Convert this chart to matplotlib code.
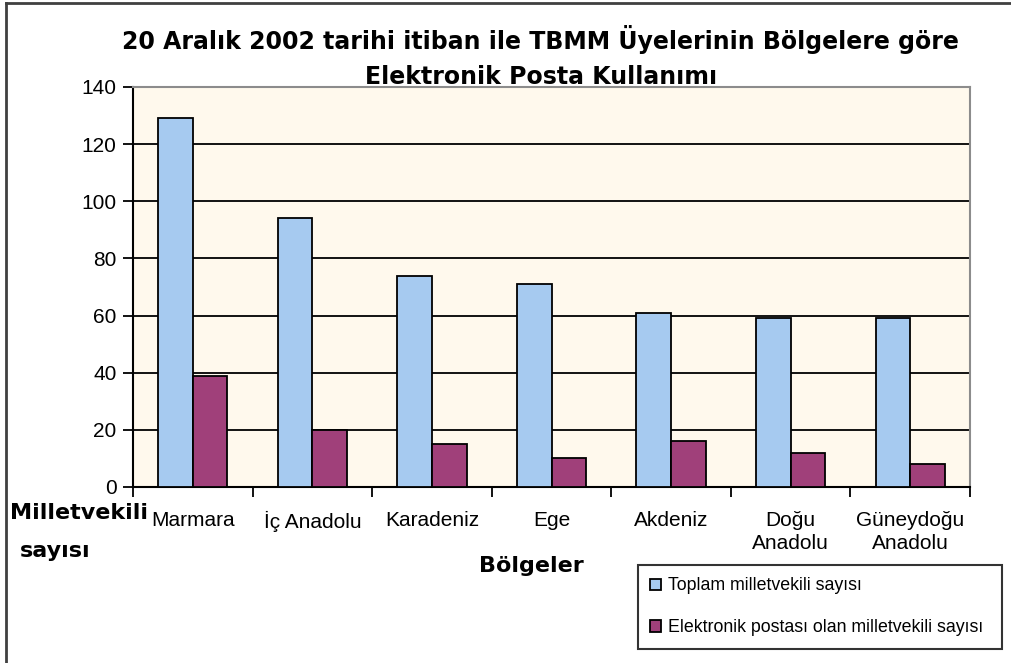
import numpy as np
import matplotlib
matplotlib.use("Agg")
import matplotlib.pyplot as plt
from matplotlib.lines import Line2D

# data
regions = ["Marmara", "İç Anadolu", "Karadeniz", "Ege", "Akdeniz",
           "Doğu\nAnadolu", "Güneydoğu\nAnadolu"]
toplam = [129, 94, 74, 71, 61, 59, 59]
eposta = [39, 20, 15, 10, 16, 12, 8]
series_names = ["Toplam milletvekili sayısı",
                "Elektronik postası olan milletvekili sayısı"]
yticks = [0, 20, 40, 60, 80, 100, 120, 140]

plt.rcParams['font.family'] = ['Liberation Sans', 'DejaVu Sans']

fig = plt.figure(figsize=(10.11, 6.63), dpi=100)
ax = fig.add_axes([0.1316, 0.2655, 0.8278, 0.6033])
ax.set_facecolor('#FFF9ED')

x = np.arange(len(regions))
w = 0.29
ax.bar(x - w / 2, toplam, w, color='#A6CAF0', edgecolor='black', linewidth=1.3,
       label=series_names[0], zorder=3)
ax.bar(x + w / 2, eposta, w, color='#A0407A', edgecolor='black', linewidth=1.3,
       label=series_names[1], zorder=3)

ax.set_xlim(-0.5, len(regions) - 0.5)
ax.set_ylim(0, 140)
ax.set_yticks(yticks)
ax.tick_params(axis='y', labelsize=15, length=7, width=1.3, direction='out', pad=5)
ax.yaxis.grid(True, color='black', linewidth=1.3, zorder=0)

ax.set_xticks(x)
ax.set_xticklabels(regions, fontsize=15, linespacing=1.3)
ax.set_xticks(np.arange(-0.5, len(regions)), minor=True)
ax.tick_params(axis='x', which='major', length=0, pad=17)
ax.tick_params(axis='x', which='minor', length=7, width=1.3, direction='out')

for s in ['left', 'bottom']:
    ax.spines[s].set_color('black')
    ax.spines[s].set_linewidth(1.5)
for s in ['top', 'right']:
    ax.spines[s].set_color('#8C8C8C')
    ax.spines[s].set_linewidth(1.5)

# titles and axis names
fig.text(0.535, 1 - 40 / 663, "20 Aralık 2002 tarihi itiban ile TBMM Üyelerinin Bölgelere göre",
         ha='center', va='center', fontsize=17, fontweight='bold', family='DejaVu Sans')
fig.text(0.535, 1 - 77 / 663, "Elektronik Posta Kullanımı",
         ha='center', va='center', fontsize=17, fontweight='bold', family='DejaVu Sans')
fig.text(79 / 1011, 1 - 513 / 663, "Milletvekili", ha='center', va='center',
         fontsize=16, fontweight='bold', family='DejaVu Sans')
fig.text(55 / 1011, 1 - 551 / 663, "sayısı", ha='center', va='center',
         fontsize=16, fontweight='bold', family='DejaVu Sans')
fig.text(531 / 1011, 1 - 566 / 663, "Bölgeler", ha='center', va='center',
         fontsize=16, fontweight='bold', family='DejaVu Sans')

leg = fig.legend(loc='upper left', bbox_to_anchor=(638 / 1011, 1 - 565 / 663, 364 / 1011, 0),
                 mode='expand', fontsize=12.8, frameon=True, fancybox=False,
                 handlelength=0.6, handleheight=0.6, handletextpad=0.4,
                 labelspacing=1.4, borderpad=0.7, borderaxespad=0)
leg.get_frame().set_edgecolor('black')
leg.get_frame().set_linewidth(1.5)

# outer chart border (left and top edges visible)
fig.add_artist(Line2D([6 / 1011, 6 / 1011], [0, 1 - 3 / 663], color='#404040', linewidth=2))
fig.add_artist(Line2D([6 / 1011, 1], [1 - 3 / 663, 1 - 3 / 663], color='#404040', linewidth=2))

fig.savefig('out.png', dpi=100)
